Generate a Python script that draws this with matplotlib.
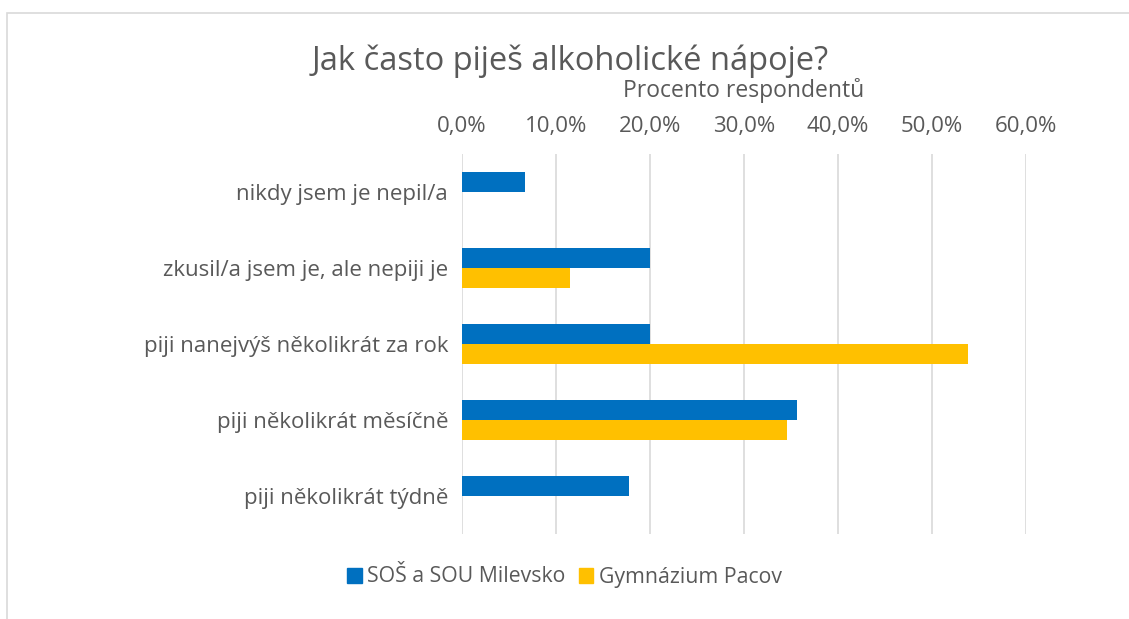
import matplotlib
matplotlib.use('Agg')
import matplotlib.pyplot as plt
import matplotlib.patches as mpatches
import numpy as np

# ===== DATA =====
CATEGORIES = ["nikdy jsem je nepil/a", "zkusil/a jsem je, ale nepiji je",
              "piji nanejvýš několikrát za rok", "piji několikrát měsíčně",
              "piji několikrát týdně"]
SERIES = ["SOŠ a SOU Milevsko", "Gymnázium Pacov"]
SOS_VALS = [0.067, 0.200, 0.200, 0.356, 0.178]
GYM_VALS = [0.0, 0.115, 0.538, 0.346, 0.0]
COLORS = ["#0070c0", "#ffc000"]
XTICKS = [0, 0.1, 0.2, 0.3, 0.4, 0.5, 0.6]

TXT = '#595959'
plt.rcParams['font.family'] = ['Open Sans', 'DejaVu Sans']

fig = plt.figure(figsize=(11.29, 6.19), dpi=100)
# light chart border (right and bottom edges run off the picture)
fig.patches.append(mpatches.Rectangle((7/1129, -0.1), 1.2, 1.1 - 13/619, transform=fig.transFigure,
                                      fill=False, edgecolor='#d9d9d9', linewidth=1.2))

ax = fig.add_axes([462/1129, 1 - 534/619, (1026 - 462)/1129, (534 - 154)/619])
y = np.arange(len(CATEGORIES))
h = 0.265
ax.barh(y - h/2, SOS_VALS, h, color=COLORS[0], label=SERIES[0], zorder=3)
ax.barh(y + h/2, GYM_VALS, h, color=COLORS[1], label=SERIES[1], zorder=3)

ax.set_xlim(0, 0.6)
ax.set_ylim(len(CATEGORIES) - 0.5, -0.5)
ax.set_xticks(XTICKS)
ax.xaxis.set_major_formatter(plt.FuncFormatter(lambda v, _: f'{v*100:.1f}%'.replace('.', ',')))
ax.xaxis.tick_top()
ax.xaxis.set_label_position('top')
ax.set_yticks(y)
ax.set_yticklabels(CATEGORIES)
ax.tick_params(axis='both', length=0, labelsize=16, labelcolor=TXT)
ax.tick_params(axis='x', pad=12)
ax.tick_params(axis='y', pad=10)
ax.grid(axis='x', color='#d9d9d9', linewidth=1.2, zorder=0)
for s in ax.spines.values():
    s.set_visible(False)
ax.set_xlabel("Procento respondentů", fontsize=16.5, color=TXT, labelpad=14)

fig.text(0.505, 1 - 61/619, "Jak často piješ alkoholické nápoje?", ha='center', va='center',
         fontsize=23.5, color=TXT)

handles = [mpatches.Patch(color=c, label=s) for c, s in zip(COLORS, SERIES)]
fig.legend(handles=handles, loc='center', bbox_to_anchor=(0.5, 1 - 577/619), ncol=2,
           frameon=False, fontsize=15.3, labelcolor=TXT, handlelength=0.7, handleheight=0.7,
           handletextpad=0.25, columnspacing=0.6)

plt.savefig("out.png", dpi=100)
plt.close()
